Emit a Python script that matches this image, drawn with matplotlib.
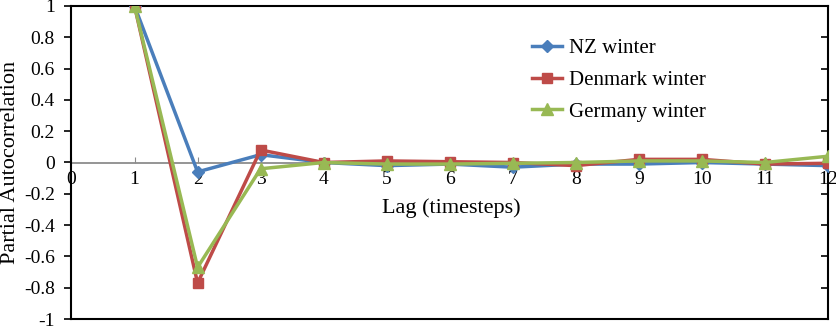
import matplotlib
matplotlib.use("Agg")
import matplotlib.pyplot as plt
from matplotlib.ticker import FuncFormatter, MultipleLocator

plt.rcParams['font.family'] = ['Liberation Serif', 'DejaVu Serif']
plt.rcParams['axes.unicode_minus'] = False

lags = [1, 2, 3, 4, 5, 6, 7, 8, 9, 10, 11, 12]
nz_winter = [1.0, -0.06, 0.05, 0.0, -0.02, -0.01, -0.03, -0.01, -0.01, 0.0, -0.01, -0.02]
denmark_winter = [1.0, -0.77, 0.08, 0.0, 0.01, 0.005, 0.0, -0.02, 0.02, 0.02, -0.01, -0.005]
germany_winter = [1.0, -0.67, -0.04, 0.0, -0.01, -0.01, -0.005, 0.0, 0.01, 0.01, 0.0, 0.04]

fig = plt.figure(figsize=(8.37, 3.26), dpi=100)
L, R, T, B = 71.5, 828, 6, 319
ax = fig.add_axes([L/837, 1-B/326, (R-L)/837, (B-T)/326])

ax.plot(lags, nz_winter, color='#4A7EBB', lw=2.5, marker='D', ms=6, label='NZ winter', zorder=3)
ax.plot(lags, denmark_winter, color='#BE4B48', lw=2.5, marker='s', ms=7.5, label='Denmark winter', zorder=3)
ax.plot(lags, germany_winter, color='#98B954', lw=2.5, marker='^', ms=8, label='Germany winter', zorder=4)

ax.set_xlim(0, 12)
ax.set_ylim(-1, 1)
ax.yaxis.set_major_locator(MultipleLocator(0.2))
ax.yaxis.set_major_formatter(FuncFormatter(lambda v, p: '%g' % round(v, 1)))
ax.tick_params(axis='y', direction='out', length=5, width=1.2, labelsize=14, pad=7)
ax.tick_params(axis='x', bottom=False, labelbottom=False)
for s in ax.spines.values():
    s.set_color('black')
    s.set_linewidth(1.5)

# x axis at y=0
ax.axhline(0, color='#8c8c8c', lw=1.3, zorder=1)
sec = ax.secondary_xaxis(0.5)
sec.spines['bottom'].set_visible(False)
sec.spines['top'].set_visible(False)
sec.set_xticks(range(0, 13))
sec.xaxis.tick_bottom()
sec.tick_params(axis='x', direction='in', length=4, color='#8c8c8c', labelsize=14, pad=6,
                labelbottom=True, labeltop=False, bottom=True, top=False)

secy = ax.secondary_yaxis('right')
secy.set_yticks([-0.8, -0.6, -0.4, -0.2, 0, 0.2, 0.4, 0.6, 0.8])
secy.tick_params(axis='y', direction='in', length=5, width=1.2, labelright=False)
secy.spines['right'].set_visible(False)

ax.set_ylabel('Partial Autocorrelation', fontsize=16)
ax.yaxis.set_label_coords(-0.0675, 0.5)
ax.text(6.03, -0.29, 'Lag (timesteps)', ha='center', va='center', fontsize=16)

ax.legend(loc='upper left', bbox_to_anchor=(0.584, 0.955), frameon=False, fontsize=15,
          handlelength=1.45, handletextpad=0.3, labelspacing=0.58)

fig.savefig('out.png', dpi=100)
